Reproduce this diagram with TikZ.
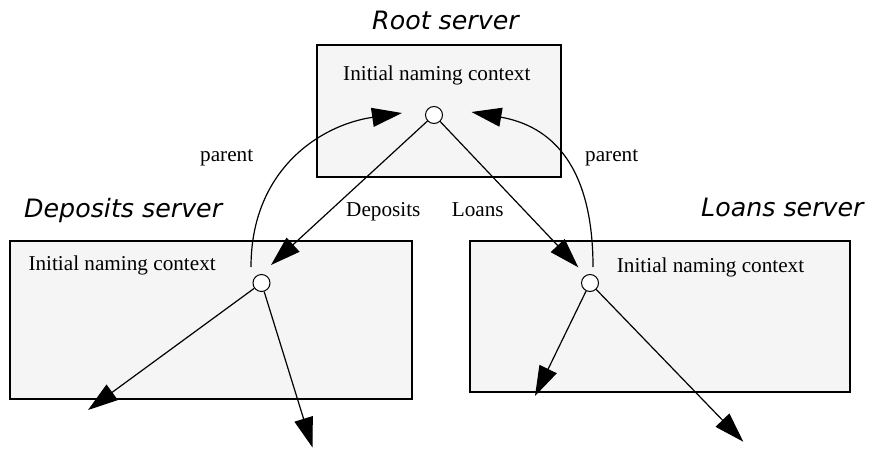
\documentclass[tikz,border=0pt]{standalone}
\usepackage{fontspec}
\setmainfont{Liberation Serif}
\newfontfamily\titlefont{DejaVu Sans}
\usetikzlibrary{arrows.meta}
\definecolor{boxfill}{RGB}{245,245,245}
\tikzset{
  x=1pt, y=-1pt,
  server/.style={draw=black, line width=2.6pt, fill=boxfill},
  ctx/.style={circle, draw=black, fill=white, line width=1pt, minimum size=17pt, inner sep=0pt},
  lbl/.style={anchor=base west, inner sep=0pt, font=\fontsize{21.2}{25}\selectfont},
  ttl/.style={anchor=base west, inner sep=0pt, font=\titlefont\itshape\fontsize{25.3}{30}\selectfont},
  arr/.style={line width=1.2pt, -{Triangle[length=30pt,width=19pt]}},
}
\begin{document}
\begin{tikzpicture}
\useasboundingbox (0,0) rectangle (869,449);
% boxes
\draw[server] (317,45) rectangle (561,177);
\draw[server] (10,241) rectangle (412,399);
\draw[server] (470,241) rectangle (850,392);
% titles
\node[ttl] (troot) at (372,30) {Root server};
\node[ttl] (tdep) at (24,217) {Deposits server};
\node[ttl] (tloan) at (701,216) {Loans server};
% context labels
\node[lbl] (lroot) at (343,80.5) {Initial naming context};
\node[lbl] (ldep) at (28.3,270.5) {Initial naming context};
\node[lbl] (lloan) at (616.7,272) {Initial naming context};
% circles
\node[ctx] (rc) at (434,115) {};
\node[ctx] (dc) at (261.5,283) {};
\node[ctx] (lc) at (590,283) {};
% edge labels
\node[lbl] (pl) at (200,161.5) {parent};
\node[lbl] (pr) at (585,161.5) {parent};
\node[lbl] (ldeps) at (346,216) {Deposits};
\node[lbl] (lloans) at (451.7,216) {Loans};
% free ends
\coordinate (dtip) at (271,265);
\coordinate (ltip) at (578.3,267.3);
\coordinate (d1) at (88,410);
\coordinate (d2) at (312.5,447.5);
\coordinate (l1) at (535,396);
\coordinate (l2) at (743.3,441.7);
\coordinate (pls) at (251,267);
\coordinate (ple) at (402,113);
\coordinate (prs) at (593,267);
\coordinate (pre) at (471.5,112);
% connectors
\draw[arr] (rc) -- (dtip);
\draw[arr] (rc) -- (ltip);
\draw[arr] (dc) -- (d1);
\draw[arr] (dc) -- (d2);
\draw[arr] (lc) -- (l1);
\draw[arr] (lc) -- (l2);
\draw[arr] (pls) .. controls (251,170) and (320,125) .. (ple);
\draw[arr] (prs) .. controls (593,165) and (551,126) .. (pre);
\end{tikzpicture}
\end{document}
